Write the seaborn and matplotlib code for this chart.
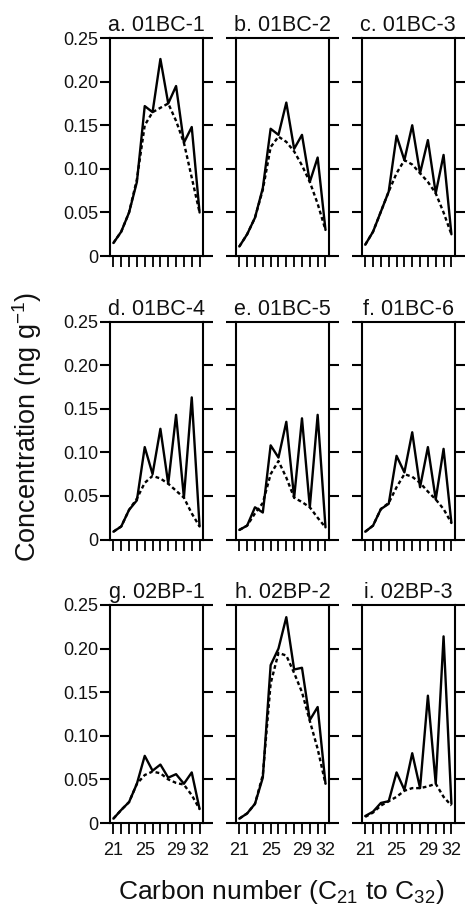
import numpy as np
import pandas as pd
import matplotlib
matplotlib.use("Agg")
import matplotlib.pyplot as plt
import seaborn as sns

# carbon numbers C21..C32
carbon = list(range(21, 33))

titles = ["a. 01BC-1", "b. 01BC-2", "c. 01BC-3",
          "d. 01BC-4", "e. 01BC-5", "f. 01BC-6",
          "g. 02BP-1", "h. 02BP-2", "i. 02BP-3"]

# measured n-alkane concentrations (solid lines)
obs_a = [0.015, 0.028, 0.050, 0.085, 0.172, 0.165, 0.226, 0.175, 0.195, 0.130, 0.148, 0.050]
obs_b = [0.011, 0.025, 0.044, 0.078, 0.146, 0.139, 0.176, 0.123, 0.139, 0.085, 0.113, 0.030]
obs_c = [0.013, 0.028, 0.051, 0.074, 0.138, 0.110, 0.150, 0.095, 0.133, 0.072, 0.116, 0.025]
obs_d = [0.009, 0.015, 0.034, 0.045, 0.106, 0.075, 0.127, 0.064, 0.143, 0.048, 0.163, 0.015]
obs_e = [0.011, 0.016, 0.037, 0.031, 0.108, 0.094, 0.135, 0.048, 0.139, 0.037, 0.143, 0.014]
obs_f = [0.009, 0.016, 0.035, 0.041, 0.096, 0.077, 0.123, 0.060, 0.106, 0.046, 0.104, 0.019]
obs_g = [0.005, 0.015, 0.024, 0.045, 0.077, 0.060, 0.067, 0.052, 0.056, 0.045, 0.058, 0.016]
obs_h = [0.005, 0.011, 0.022, 0.052, 0.181, 0.200, 0.236, 0.176, 0.178, 0.118, 0.133, 0.045]
obs_i = [0.008, 0.013, 0.023, 0.025, 0.058, 0.038, 0.080, 0.040, 0.146, 0.045, 0.214, 0.022]

# smoothed / even-carbon envelope (dashed lines)
fit_a = [0.015, 0.028, 0.050, 0.088, 0.150, 0.165, 0.170, 0.175, 0.155, 0.130, 0.090, 0.050]
fit_b = [0.011, 0.025, 0.044, 0.076, 0.125, 0.137, 0.131, 0.120, 0.104, 0.085, 0.060, 0.030]
fit_c = [0.013, 0.028, 0.051, 0.074, 0.095, 0.110, 0.105, 0.095, 0.085, 0.072, 0.050, 0.025]
fit_d = [0.009, 0.015, 0.034, 0.047, 0.065, 0.073, 0.070, 0.064, 0.056, 0.048, 0.030, 0.015]
fit_e = [0.011, 0.016, 0.030, 0.042, 0.075, 0.090, 0.071, 0.048, 0.043, 0.037, 0.025, 0.014]
fit_f = [0.009, 0.016, 0.035, 0.042, 0.060, 0.075, 0.072, 0.065, 0.055, 0.046, 0.035, 0.019]
fit_g = [0.005, 0.015, 0.024, 0.045, 0.055, 0.059, 0.057, 0.050, 0.046, 0.044, 0.032, 0.016]
fit_h = [0.005, 0.011, 0.022, 0.055, 0.160, 0.195, 0.192, 0.172, 0.150, 0.117, 0.085, 0.045]
fit_i = [0.007, 0.012, 0.020, 0.025, 0.030, 0.037, 0.040, 0.040, 0.042, 0.045, 0.030, 0.020]

obs = [obs_a, obs_b, obs_c, obs_d, obs_e, obs_f, obs_g, obs_h, obs_i]
fit = [fit_a, fit_b, fit_c, fit_d, fit_e, fit_f, fit_g, fit_h, fit_i]

yticks = [0, 0.05, 0.10, 0.15, 0.20, 0.25]
ytick_labels = ["0", "0.05", "0.10", "0.15", "0.20", "0.25"]
xtick_labels = {21: "21", 25: "25", 29: "29", 32: "32"}

sns.set_style("ticks")
plt.rcParams["font.family"] = ["Liberation Sans", "DejaVu Sans"]
plt.rcParams["mathtext.fontset"] = "custom"
plt.rcParams["mathtext.rm"] = "Liberation Sans"
plt.rcParams["mathtext.it"] = "Liberation Sans"
plt.rcParams["text.color"] = "#111111"
plt.rcParams["xtick.color"] = "black"
plt.rcParams["ytick.color"] = "black"
plt.rcParams["xtick.labelcolor"] = "#111111"
plt.rcParams["ytick.labelcolor"] = "#111111"

fig, axes = plt.subplots(3, 3, figsize=(4.65, 9.06), dpi=100)
fig.subplots_adjust(left=0.2366, right=0.978, bottom=0.0916, top=0.958,
                    wspace=0.355, hspace=0.30)

for k, ax in enumerate(axes.flat):
    df = pd.DataFrame({
        "carbon": carbon * 2,
        "conc": obs[k] + fit[k],
        "kind": ["obs"] * 12 + ["fit"] * 12,
    })
    sns.lineplot(data=df, x="carbon", y="conc", style="kind",
                 dashes={"obs": "", "fit": (1.6, 1.2)}, color="black",
                 linewidth=1.7, legend=False, ax=ax)
    ax.set_xlim(20.57, 32.43)
    ax.set_ylim(0, 0.25)
    ax.set_xticks(carbon)
    ax.set_yticks(yticks)
    row, col = divmod(k, 3)
    if row == 2:
        ax.set_xticklabels([xtick_labels.get(c, "") for c in carbon], fontsize=13)
    else:
        ax.set_xticklabels([])
    if col == 0:
        ax.set_yticklabels(ytick_labels, fontsize=13)
    else:
        ax.set_yticklabels([])
    ax.tick_params(axis="y", left=True, right=True, direction="out",
                   length=7.5, width=1.5, pad=1)
    ax.tick_params(axis="x", bottom=True, direction="out",
                   length=8, width=1.3, pad=6)
    for s in ax.spines.values():
        s.set_visible(True)
        s.set_linewidth(1.5)
        s.set_color("black")
    ax.set_xlabel("")
    ax.set_ylabel("")
    ax.set_title(titles[k], fontsize=15.5, pad=5)

fig.text(0.604, 0.015, "Carbon number (C$_{21}$ to C$_{32}$)",
         ha="center", va="center", fontsize=19)
fig.text(0.058, 0.529, "Concentration (ng g$^{-1}$)",
         ha="center", va="center", rotation=90, fontsize=19.5)

fig.savefig("out.png", dpi=100)
